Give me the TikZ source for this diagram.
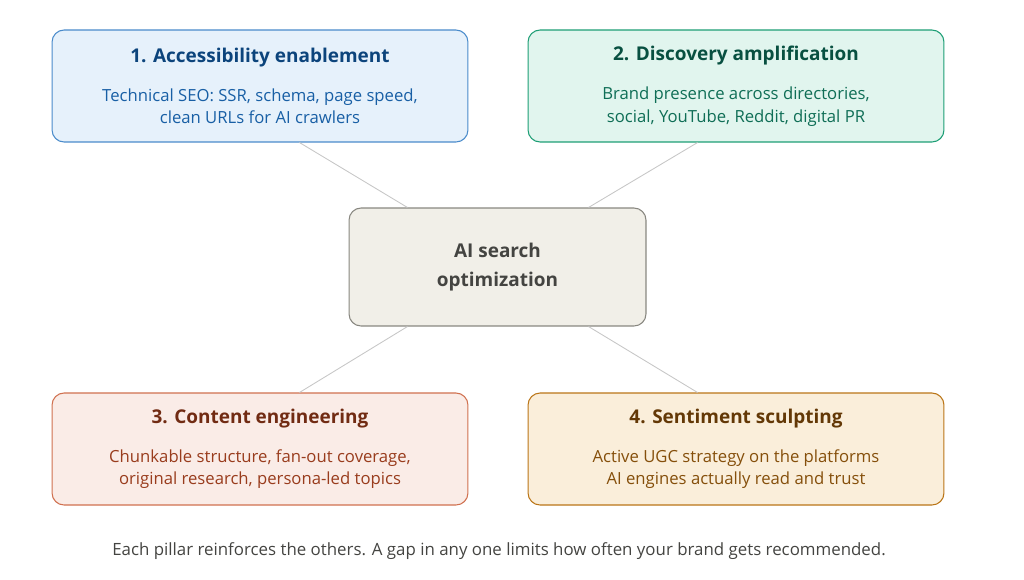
\documentclass[tikz,border=0pt]{standalone}
\usepackage{fontspec}
\setmainfont{Open Sans}
\definecolor{blfill}{HTML}{E6F1FB}\definecolor{bldraw}{HTML}{4A8BCB}
\definecolor{bltitle}{HTML}{0C447C}\definecolor{bltext}{HTML}{185FA5}
\definecolor{grfill}{HTML}{E1F5EE}\definecolor{grdraw}{HTML}{1D9E75}
\definecolor{grtitle}{HTML}{085041}\definecolor{grtext}{HTML}{0F6E56}
\definecolor{rdfill}{HTML}{FAECE7}\definecolor{rddraw}{HTML}{D0704F}
\definecolor{rdtitle}{HTML}{712B13}\definecolor{rdtext}{HTML}{993C1D}
\definecolor{ylfill}{HTML}{FAEEDA}\definecolor{yldraw}{HTML}{BA7517}
\definecolor{yltitle}{HTML}{633806}\definecolor{yltext}{HTML}{854F0B}
\definecolor{cnfill}{HTML}{F1EFE8}\definecolor{cndraw}{HTML}{888780}
\definecolor{cntext}{HTML}{444441}
\tikzset{
  pillar/.style={draw, rounded corners=0.24cm, minimum width=8.32cm, minimum height=2.24cm, align=center, line width=0.6pt, font=\fontsize{9.5}{13}\selectfont},
  hub/.style={draw=cndraw, fill=cnfill, text=cntext, rounded corners=0.24cm, minimum width=5.94cm, minimum height=2.36cm, align=center, line width=0.6pt, font=\fontsize{10.8}{17}\selectfont\bfseries},
  link/.style={draw=black!22, line width=0.5pt}
}
\newcommand{\ttl}[2]{\textcolor{#1}{\fontsize{10.8}{13}\selectfont\bfseries #2}}
\begin{document}
\begin{tikzpicture}[x=0.02cm, y=-0.02cm]
\useasboundingbox (0,0) rectangle (1024,579);
\node[hub] (hub) at (497.5,267) {AI search\\optimization};
\node[pillar, draw=bldraw, fill=blfill, text=bltext] (access) at (260,86)
  {\ttl{bltitle}{1. Accessibility enablement}\\[9pt]Technical SEO: SSR, schema, page speed,\\clean URLs for AI crawlers};
\node[pillar, draw=grdraw, fill=grfill, text=grtext] (discover) at (736,86)
  {\ttl{grtitle}{2. Discovery amplification}\\[9pt]Brand presence across directories,\\social, YouTube, Reddit, digital PR};
\node[pillar, draw=rddraw, fill=rdfill, text=rdtext] (content) at (260,449)
  {\ttl{rdtitle}{3. Content engineering}\\[9pt]Chunkable structure, fan-out coverage,\\original research, persona-led topics};
\node[pillar, draw=yldraw, fill=ylfill, text=yltext] (senti) at (736,449)
  {\ttl{yltitle}{4. Sentiment sculpting}\\[9pt]Active UGC strategy on the platforms\\AI engines actually read and trust};
\draw[link] ([xshift=4.96cm]access.south west) -- ([xshift=1.18cm]hub.north west);
\draw[link] ([xshift=-4.94cm]discover.south east) -- ([xshift=-1.16cm]hub.north east);
\draw[link] ([xshift=4.96cm]content.north west) -- ([xshift=1.18cm]hub.south west);
\draw[link] ([xshift=-4.94cm]senti.north east) -- ([xshift=-1.16cm]hub.south east);
\node[text=cntext, font=\fontsize{9.6}{11}\selectfont] (note) at (499,551)
  {Each pillar reinforces the others. A gap in any one limits how often your brand gets recommended.};
\end{tikzpicture}
\end{document}
